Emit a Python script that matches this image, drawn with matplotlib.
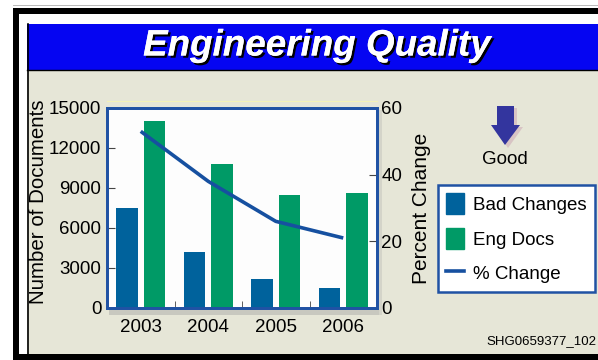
import matplotlib.pyplot as plt
import matplotlib.patches as mpatches
import matplotlib.patheffects as pe
from matplotlib.lines import Line2D
import numpy as np

plt.rcParams['font.family'] = ['Liberation Sans', 'DejaVu Sans']

# data
years = ['2003', '2004', '2005', '2006']
bad_changes = [7500, 4200, 2200, 1500]
eng_docs = [14000, 10800, 8500, 8600]
pct_change = [53, 38, 26, 21]

BLUE_BAR = '#00629C'
GREEN_BAR = '#009A66'
LINE_COL = '#1650A0'
SPINE_COL = '#2052A4'
BEIGE = '#E6E6D7'

fig = plt.figure(figsize=(5.98, 3.60), dpi=100)
fig.patch.set_facecolor('white')

# background frame drawn in pixel coords (y down)
deco = fig.add_axes([0, 0, 1, 1], zorder=-1)
deco.set_xlim(0, 598); deco.set_ylim(360, 0); deco.axis('off')
R = lambda x, y, w, h, c, **kw: deco.add_patch(mpatches.Rectangle((x, y), w, h, facecolor=c, edgecolor='none', **kw))
R(13, 5, 585, 1.2, '#BBBBBB')
R(13, 8, 585, 5.5, 'black')        # top border
R(13, 8, 5.5, 352, 'black')        # left border
R(13, 354, 585, 6, 'black')        # bottom border
R(27, 24, 571, 46, '#0505F2')      # title band
R(27, 70, 571, 284, BEIGE)         # panel
deco.plot([27, 598], [70, 70], color='black', lw=1)
deco.plot([27.5, 27.5], [24, 354], color='black', lw=1.2)
deco.plot([107, 377], [101, 101], color='#F4F2B8', lw=0.8)
R(109, 309, 270, 6, '#B4B4B0', alpha=0.6)   # shadow under x axis
R(378, 110, 4, 205, '#C8C8C0', alpha=0.6)   # shadow right of axes

# title with drop shadow
deco.text(317, 46, 'Engineering Quality', color='white', fontsize=26.5, fontweight='bold',
          fontstyle='italic', ha='center', va='center',
          path_effects=[pe.withSimplePatchShadow(offset=(1.6, -1.6), shadow_rgbFace='black', alpha=1),
                        pe.Normal()])

# "Good" arrow
shadow = mpatches.Polygon([[500, 108], [517, 108], [517, 127], [523, 127], [508, 148],
                           [494, 127], [500, 127]], closed=True, facecolor='#D8C4C4', edgecolor='none')
deco.add_patch(shadow)
arrow = mpatches.Polygon([[497, 106], [514, 106], [514, 125], [520, 125], [505, 145],
                          [491, 125], [497, 125]], closed=True, facecolor='#33359E', edgecolor='none')
deco.add_patch(arrow)
deco.text(505, 160, 'Good', fontsize=13.5, ha='center', va='center', color='black')

deco.text(596, 341, 'SHG0659377_102', fontsize=9.5, ha='right', va='center', color='black')

# main chart
ax = fig.add_axes([107/598, 1 - 308/360, 270/598, 200/360])
ax.set_facecolor('#FDFDFD')
x = np.arange(len(years))
ax.bar(x - 0.205, bad_changes, width=0.32, color=BLUE_BAR, label='Bad Changes', zorder=2)
ax.bar(x + 0.205, eng_docs, width=0.32, color=GREEN_BAR, label='Eng Docs', zorder=2)
ax.set_xlim(-0.5, 3.5)
ax.set_ylim(0, 15000)
ax.set_yticks(range(0, 15001, 3000))
ax.set_xticks(x)
ax.set_xticklabels(years)
ax.set_xticks([0.5, 1.5, 2.5], minor=True)
ax.tick_params(axis='x', which='major', length=0, pad=8, labelsize=13.5)
ax.tick_params(axis='x', which='minor', direction='in', length=5, color='#444444')
ax.tick_params(axis='y', direction='in', length=6, pad=4, labelsize=13.5, color='#444444')
ax.set_ylabel('Number of Documents', fontsize=14.8)
ax.yaxis.set_label_coords(-0.218, 0.53)
for s in ax.spines.values():
    s.set_color(SPINE_COL); s.set_linewidth(2)

ax2 = ax.twinx()
ax2.plot(x, pct_change, color=LINE_COL, lw=2.6, solid_capstyle='butt', label='% Change')
ax2.set_ylim(0, 60)
ax2.set_yticks([0, 20, 40, 60])
ax2.tick_params(axis='y', direction='in', length=6, pad=3, labelsize=13.5, color='#444444')
ax2.set_ylabel('Percent Change', fontsize=15, labelpad=7)
for s in ax2.spines.values():
    s.set_color(SPINE_COL); s.set_linewidth(2)

handles = [mpatches.Patch(color=BLUE_BAR), mpatches.Patch(color=GREEN_BAR),
           Line2D([0], [0], color=LINE_COL, lw=2.6)]
leg = fig.legend(handles, ['Bad Changes', 'Eng Docs', '% Change'], loc='upper left',
                 bbox_to_anchor=(438/598, 1 - 185/360), fontsize=13.5, fancybox=False,
                 framealpha=1, edgecolor=SPINE_COL, handlelength=0.95, handleheight=1.35,
                 labelspacing=0.72, handletextpad=0.45, borderpad=0.45, borderaxespad=0)
leg.get_frame().set_linewidth(1.8)

fig.savefig('out.png', dpi=100)
